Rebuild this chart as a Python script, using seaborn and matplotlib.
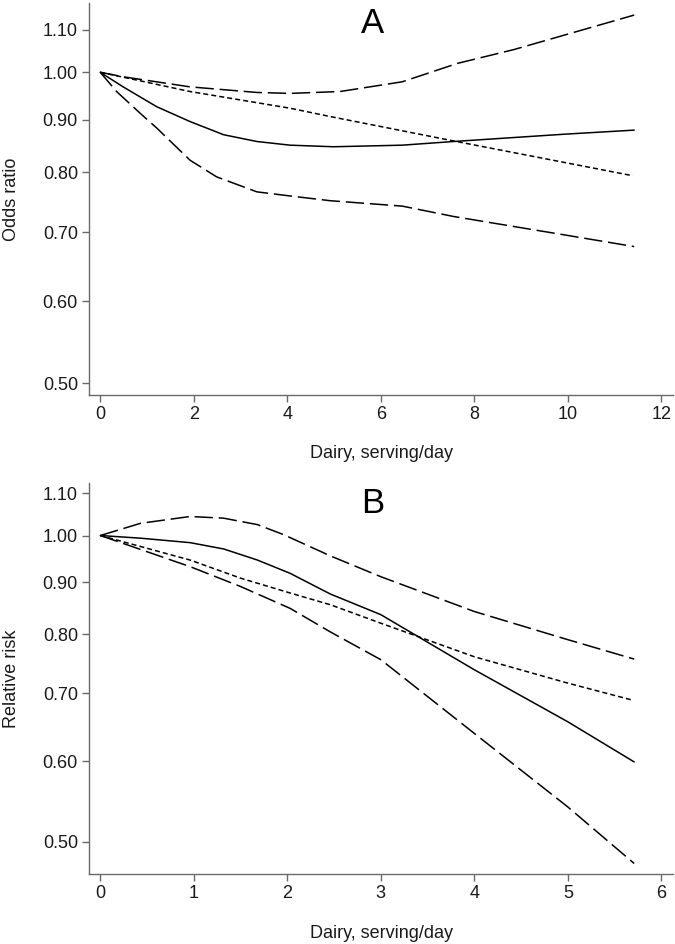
import numpy as np
import pandas as pd
import seaborn as sns
import matplotlib.pyplot as plt
from matplotlib.ticker import FixedLocator, NullLocator

# Panel A: odds ratio vs dairy servings/day
a_x_point = [0, 0.49, 1.21, 1.92, 2.64, 3.35, 4.06, 4.99, 6.46, 7.56, 9.92, 11.42]
a_point = [1.0, 0.968, 0.926, 0.896, 0.870, 0.857, 0.850, 0.847, 0.850, 0.857, 0.871, 0.879]
a_x_upper = [0, 0.49, 1.92, 3.35, 4.06, 5.13, 6.46, 7.64, 8.85, 11.42]
a_upper = [1.0, 0.990, 0.968, 0.956, 0.954, 0.958, 0.979, 1.020, 1.052, 1.136]
a_x_lower = [0, 0.35, 0.85, 1.21, 1.92, 2.49, 3.35, 4.06, 4.92, 6.46, 7.56, 9.92, 11.42]
a_lower = [1.0, 0.958, 0.913, 0.883, 0.822, 0.792, 0.766, 0.759, 0.751, 0.742, 0.725, 0.696, 0.678]
a_x_linear = [0, 1.92, 4.06, 4.92, 7.56, 9.92, 11.39]
a_linear = [1.0, 0.958, 0.923, 0.906, 0.858, 0.818, 0.794]

# Panel B: relative risk vs dairy servings/day
b_x_point = [0, 0.43, 0.96, 1.32, 1.68, 2.03, 2.46, 3.0, 4.0, 5.0, 5.71]
b_point = [1.0, 0.994, 0.984, 0.970, 0.946, 0.918, 0.876, 0.836, 0.738, 0.656, 0.599]
b_x_upper = [0, 0.43, 0.96, 1.32, 1.68, 1.96, 2.46, 3.0, 4.0, 5.0, 5.71]
b_upper = [1.0, 1.028, 1.044, 1.040, 1.025, 1.002, 0.955, 0.911, 0.842, 0.790, 0.756]
b_x_lower = [0, 0.96, 1.5, 2.03, 2.46, 3.0, 4.0, 5.0, 5.71]
b_lower = [1.0, 0.932, 0.891, 0.848, 0.804, 0.755, 0.639, 0.541, 0.476]
b_x_linear = [0, 0.96, 1.5, 2.03, 2.46, 3.0, 4.0, 5.0, 5.69]
b_linear = [1.0, 0.946, 0.908, 0.878, 0.855, 0.820, 0.760, 0.716, 0.689]

y_ticks = [0.50, 0.60, 0.70, 0.80, 0.90, 1.00, 1.10]


def make_df(series):
    parts = []
    for name, xv, yv in series:
        parts.append(pd.DataFrame({"x": xv, "y": yv, "curve": name}))
    return pd.concat(parts, ignore_index=True)


df_a = make_df([("point", a_x_point, a_point), ("upper", a_x_upper, a_upper),
                ("lower", a_x_lower, a_lower), ("linear", a_x_linear, a_linear)])
df_b = make_df([("point", b_x_point, b_point), ("upper", b_x_upper, b_upper),
                ("lower", b_x_lower, b_lower), ("linear", b_x_linear, b_linear)])

sns.set_theme(style="ticks")
plt.rcParams["font.family"] = ["Liberation Sans", "DejaVu Sans"]

dash_map = {"point": "", "upper": (12, 3.8), "lower": (12, 3.8), "linear": (3.3, 2.0)}
spine_col = "#6a6a6a"
txt_col = "#1a1a1a"

fig = plt.figure(figsize=(6.75, 9.44), dpi=100)
W, H = 675, 944
ax_a = fig.add_axes([89 / W, 1 - 395 / H, 584 / W, 392 / H])
ax_b = fig.add_axes([89 / W, 1 - 874.3 / H, 584 / W, 391.6 / H])

panels = [
    (ax_a, df_a, "Odds ratio", (-0.24, 12.25), (0.487, 1.167), range(0, 13, 2), "A"),
    (ax_b, df_b, "Relative risk", (-0.121, 6.125), (0.4645, 1.127), range(0, 7), "B"),
]

for ax, df, ylab, xlim, ylim, xt, letter in panels:
    sns.lineplot(data=df, x="x", y="y", style="curve", dashes=dash_map,
                 color="black", linewidth=1.1, legend=False, ax=ax,
                 estimator=None, sort=False)
    ax.set_yscale("log")
    ax.set_xlim(*xlim)
    ax.set_ylim(*ylim)
    ax.yaxis.set_major_locator(FixedLocator(y_ticks))
    ax.yaxis.set_minor_locator(NullLocator())
    ax.set_yticklabels([f"{v:.2f}" for v in y_ticks])
    ax.set_xticks(list(xt))
    ax.set_xticklabels([str(v) for v in xt])
    for s in ["top", "right"]:
        ax.spines[s].set_visible(False)
    for s in ["left", "bottom"]:
        ax.spines[s].set_color(spine_col)
        ax.spines[s].set_linewidth(1.0)
    ax.tick_params(axis="both", colors=spine_col, length=5, width=1.0,
                   labelsize=13, labelcolor=txt_col, pad=3)
    ax.set_ylabel(ylab, fontsize=13, color=txt_col, labelpad=16)
    ax.set_xlabel("Dairy, serving/day", fontsize=13, color=txt_col, labelpad=16)
    ax.text(0.486, 0.99, letter, transform=ax.transAxes, ha="center", va="top",
            fontsize=25, color="black")
    ax.set_facecolor("white")

fig.savefig("out.png", dpi=100, facecolor="white")
